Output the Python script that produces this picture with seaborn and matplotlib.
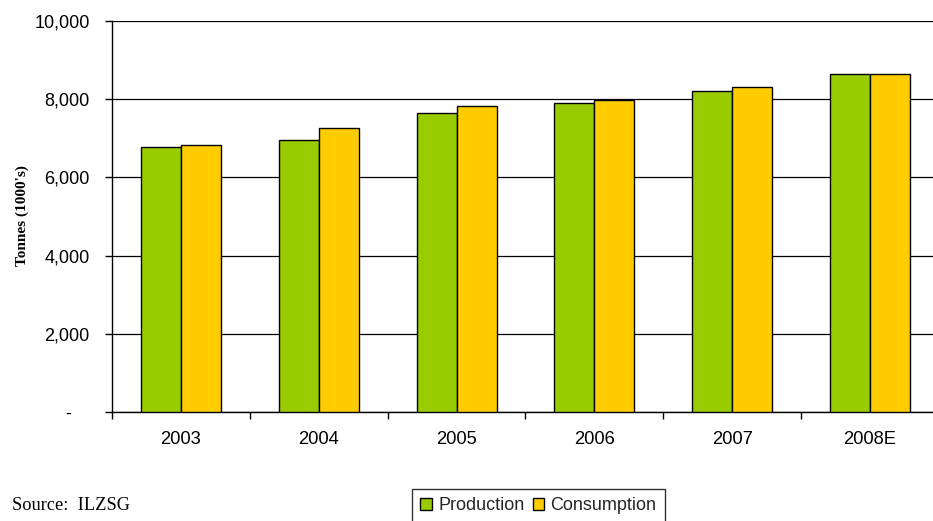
import matplotlib
matplotlib.use("Agg")
import matplotlib.pyplot as plt
import matplotlib.transforms as mtransforms
import seaborn as sns
import pandas as pd
from matplotlib.patches import Patch
from matplotlib.ticker import FuncFormatter

years = ["2003", "2004", "2005", "2006", "2007", "2008E"]
production = [6785, 6957, 7647, 7911, 8217, 8652]
consumption = [6829, 7255, 7826, 7988, 8312, 8652]
series_names = ["Production", "Consumption"]
colors = ["#99CC00", "#FFCC00"]
y_ticks = [0, 2000, 4000, 6000, 8000, 10000]

df = pd.DataFrame({
    "Year": years * 2,
    "Value": production + consumption,
    "Series": [series_names[0]] * len(years) + [series_names[1]] * len(years),
})

sns.set_theme(style="white")
plt.rcParams["font.family"] = ["Liberation Sans", "DejaVu Sans"]

W, H = 933, 521
fig = plt.figure(figsize=(W / 100, H / 100), dpi=100)
left, right, top, bottom = 112, 939, 21, 412
ax = fig.add_axes([left / W, (H - bottom) / H, (right - left) / W, (bottom - top) / H])

sns.barplot(data=df, x="Year", y="Value", hue="Series", palette=colors,
            width=0.58, gap=0, edgecolor="black", linewidth=1.0,
            saturation=1, ax=ax, legend=False, zorder=3)

ax.set_ylim(0, 10000)
ax.set_xlim(-0.5, len(years) - 0.5)
ax.set_yticks(y_ticks)
ax.yaxis.set_major_formatter(FuncFormatter(lambda v, p: "-" if v == 0 else f"{int(v):,}"))
ax.grid(axis="y", color="black", linewidth=0.9, zorder=0)
ax.set_axisbelow(True)
for s in ["top", "right"]:
    ax.spines[s].set_visible(False)
for s in ["left", "bottom"]:
    ax.spines[s].set_color("black")
    ax.spines[s].set_linewidth(1.0)

ax.set_xticks(range(len(years)))
ax.set_xticklabels(years)
ax.set_xticks([i - 0.5 for i in range(len(years) + 1)], minor=True)
ax.tick_params(axis="x", which="major", length=0, pad=14, labelsize=13.2, labelcolor="black")
ax.tick_params(axis="x", which="minor", length=5, width=1, color="black", direction="out", bottom=True)
ax.tick_params(axis="y", which="major", length=5, width=1, color="black", direction="out",
               left=True, pad=11, labelsize=13, labelcolor="black")
ax.set_xlabel("")
ax.set_ylabel("")

# accounting-style dash for zero sits further left
fig.canvas.draw()
zero_label = ax.get_yticklabels()[0]
zero_label.set_transform(zero_label.get_transform() +
                         mtransforms.ScaledTranslation(-19 / 100, 0, fig.dpi_scale_trans))

fig.text(22 / W, 1 - 216 / H, "Tonnes (1000's)", rotation=90,
         fontfamily=["Liberation Serif", "DejaVu Serif"], fontweight="bold",
         fontsize=11, color="black", va="center", ha="center")

fig.text(12 / W, 1 - 506 / H, "Source:  ILZSG", fontfamily=["Liberation Serif", "DejaVu Serif"],
         fontsize=13.2, color="black", va="center", ha="left")

handles = [Patch(facecolor=c, edgecolor="black", linewidth=1.0, label=n) for c, n in zip(colors, series_names)]
leg = fig.legend(handles=handles, loc="upper left", bbox_to_anchor=(412 / W, 1 - 489 / H),
                 ncol=2, frameon=True, fancybox=False, fontsize=13, handlelength=0.65,
                 handleheight=0.65, handletextpad=0.35, columnspacing=0.45,
                 borderpad=0.45, borderaxespad=0)
leg.get_frame().set_edgecolor("black")
leg.get_frame().set_linewidth(1.0)

fig.savefig("out.png", dpi=100)
